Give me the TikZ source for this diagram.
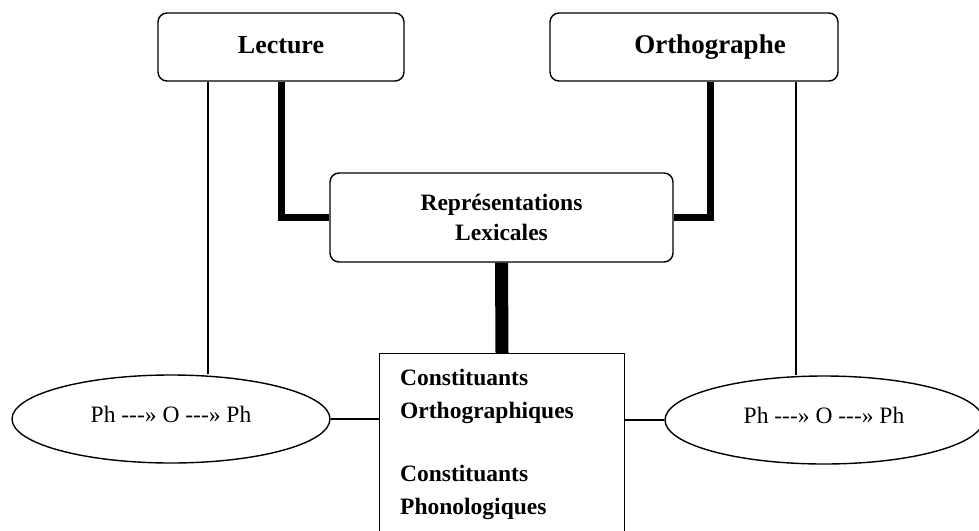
\documentclass[tikz,border=0pt]{standalone}
\usepackage{fontspec}
\setmainfont{Liberation Serif}
\newfontfamily\ellfont{Liberation Serif}
\usetikzlibrary{shapes.geometric}
\begin{document}
\begin{tikzpicture}[x=1pt,y=-1pt,
  rbox/.style={draw, line width=1.4pt, rounded corners=9pt, align=center},
  ell/.style={draw, ellipse, line width=1.4pt, minimum width=318pt, minimum height=88pt, inner sep=0pt, font=\ellfont\fontsize{23.5}{28}\selectfont},
  thin/.style={line width=1.3pt},
  thickl/.style={line width=7pt},
  thickm/.style={line width=13pt}]
\useasboundingbox (0,0) rectangle (979,530);
\clip (0,0) rectangle (979,530);
\node[rbox, minimum width=246pt, minimum height=68pt, font=\bfseries\fontsize{26}{30}\selectfont] (lect) at (281,47) {\raisebox{4pt}{Lecture}};
\node[rbox, minimum width=288pt, minimum height=68pt, font=\bfseries\fontsize{27}{30}\selectfont] (orth) at (694,47) {\hspace{32pt}Orthographe};
\node[rbox, minimum width=343pt, minimum height=89pt, font=\bfseries\fontsize{23.5}{30}\selectfont] (rep) at (501.5,217.5) {Représentations\\Lexicales};
\node[draw, line width=1.4pt, minimum width=245pt, minimum height=190pt, anchor=north] (cons) at (502,353) {};
\node[anchor=north west, align=left, inner sep=0pt, font=\bfseries\fontsize{23.5}{32.5}\selectfont] (consT) at (400,369)
  {Constituants\\Orthographiques\\[31pt]Constituants\\Phonologiques};
\node[ell] (elleft) at (171,419) {\raisebox{10pt}{Ph ---» O ---» Ph}};
\node[ell] (elright) at (824,420) {\raisebox{10pt}{Ph ---» O ---» Ph}};

\draw[thickl] (lect.south) |- (rep.west);
\draw[thickl] ([xshift=16pt]orth.south) |- (rep.east);
\draw[thickm] (rep.south) -- (cons.north);
\draw[thin] ([xshift=-73pt]lect.south) -- ([xshift=-73pt]lect.south |- elleft.north);
\draw[thin] ([xshift=102pt]orth.south) -- ([xshift=102pt]orth.south |- elright.north);
\draw[thin] (elleft.east) -- (elleft.east -| cons.west);
\draw[thin] (elright.west) -- (elright.west -| cons.east);
\end{tikzpicture}
\end{document}
